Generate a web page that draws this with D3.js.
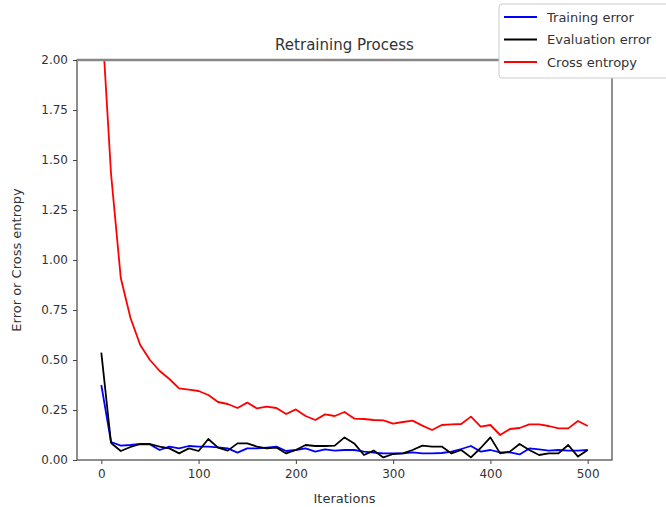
<!DOCTYPE html>
<html>
<head>
<meta charset="utf-8">
<script src="https://cdn.jsdelivr.net/npm/d3@7"></script>
<style>
  body { margin: 0; background: #fff; }
  text { font-family: "DejaVu Sans", sans-serif; fill: #333; }
</style>
</head>
<body>
<script>
// data, one value every 10 iterations
const iterations = d3.range(0, 501, 10)
const trainingError = [0.375,0.09,0.072,0.075,0.08,0.078,0.05,0.067,0.058,0.07,0.067,0.067,0.063,0.058,0.037,0.058,0.058,0.062,0.067,0.045,0.05,0.058,0.042,0.053,0.047,0.05,0.05,0.042,0.037,0.033,0.033,0.033,0.038,0.033,0.033,0.035,0.042,0.055,0.07,0.042,0.05,0.038,0.038,0.028,0.058,0.053,0.047,0.05,0.047,0.047,0.05]
const evaluationError = [0.537,0.085,0.045,0.065,0.08,0.08,0.067,0.058,0.033,0.058,0.045,0.105,0.062,0.047,0.083,0.083,0.067,0.058,0.062,0.033,0.05,0.075,0.07,0.07,0.072,0.113,0.083,0.025,0.047,0.013,0.03,0.033,0.05,0.072,0.067,0.067,0.033,0.05,0.013,0.06,0.113,0.033,0.042,0.08,0.05,0.025,0.033,0.033,0.075,0.017,0.05]
const crossEntropy = [2.25,1.43,0.91,0.71,0.575,0.5,0.445,0.405,0.358,0.352,0.345,0.325,0.29,0.28,0.26,0.287,0.258,0.267,0.26,0.23,0.253,0.22,0.2,0.228,0.22,0.24,0.207,0.205,0.2,0.198,0.182,0.19,0.197,0.172,0.15,0.175,0.178,0.18,0.217,0.167,0.175,0.125,0.155,0.16,0.178,0.178,0.17,0.158,0.158,0.195,0.17]
const xTicks = [0,100,200,300,400,500]
const yTicks = [0,0.25,0.5,0.75,1,1.25,1.5,1.75,2]

const seriesNames = ["Training error","Evaluation error","Cross entropy"]
const seriesColors = ["#0000ff","#000000","#ff0000"]
const seriesValues = [trainingError, evaluationError, crossEntropy]

const width = 666, height = 507
const margin = {top:60, right:54, bottom:47, left:77}
const svg = d3.select("body").append("svg").attr("width",width).attr("height",height)

const x = d3.scaleLinear().domain([-25,525]).range([margin.left, width-margin.right])
const y = d3.scaleLinear().domain([0,2]).range([height-margin.bottom, margin.top])

svg.append("clipPath").attr("id","plot")
  .append("rect").attr("x",margin.left).attr("y",margin.top)
  .attr("width",width-margin.left-margin.right).attr("height",height-margin.top-margin.bottom)

// lines
const line = d3.line().x((d,i)=>x(iterations[i])).y(d=>y(d))
svg.append("g").attr("clip-path","url(#plot)")
  .selectAll("path").data(seriesValues).enter().append("path")
  .attr("d", line)
  .attr("fill","none")
  .attr("stroke",(d,i)=>seriesColors[i])
  .attr("stroke-width",1.8)
  .attr("stroke-linejoin","round")

// axes
const xAxis = svg.append("g").attr("transform",`translate(0,${height-margin.bottom})`)
  .call(d3.axisBottom(x).tickValues(xTicks).tickSize(4).tickPadding(5))
const yAxis = svg.append("g").attr("transform",`translate(${margin.left},0)`)
  .call(d3.axisLeft(y).tickValues(yTicks).tickFormat(d3.format(".2f")).tickSize(4).tickPadding(5))
svg.selectAll(".domain").remove()
svg.selectAll(".tick line").attr("stroke","#444")
svg.selectAll(".tick text").style("font-size","12px").style("fill","#333").style("font-family","DejaVu Sans")

// frame
svg.append("rect").attr("x",margin.left).attr("y",margin.top)
  .attr("width",width-margin.left-margin.right).attr("height",height-margin.top-margin.bottom)
  .attr("fill","none").attr("stroke","#444").attr("stroke-width",1.2)
svg.append("line").attr("x1",margin.left).attr("x2",width-margin.right)
  .attr("y1",margin.top).attr("y2",margin.top).attr("stroke","#888").attr("stroke-width",2.5)

// titles
svg.append("text").attr("x",(margin.left+width-margin.right)/2).attr("y",margin.top-10)
  .attr("text-anchor","middle").style("font-size","15px").text("Retraining Process")
svg.append("text").attr("x",(margin.left+width-margin.right)/2).attr("y",height-4)
  .attr("text-anchor","middle").style("font-size","13px").text("Iterations")
svg.append("text").attr("transform",`translate(21,${(margin.top+height-margin.bottom)/2}) rotate(-90)`)
  .attr("text-anchor","middle").style("font-size","13px").text("Error or Cross entropy")

// legend
const legend = svg.append("g").attr("transform","translate(499,4)")
legend.append("rect").attr("width",180).attr("height",74).attr("rx",3)
  .attr("fill","#fff").attr("stroke","#ccc")
const item = legend.selectAll("g.item").data(seriesNames).enter().append("g")
  .attr("transform",(d,i)=>`translate(0,${13+i*22.5})`)
item.append("line").attr("x1",5).attr("x2",38).attr("stroke",(d,i)=>seriesColors[i]).attr("stroke-width",1.8)
item.append("text").attr("x",48).attr("dy","0.35em").style("font-size","13px").text(d=>d)
</script>
</body>
</html>
